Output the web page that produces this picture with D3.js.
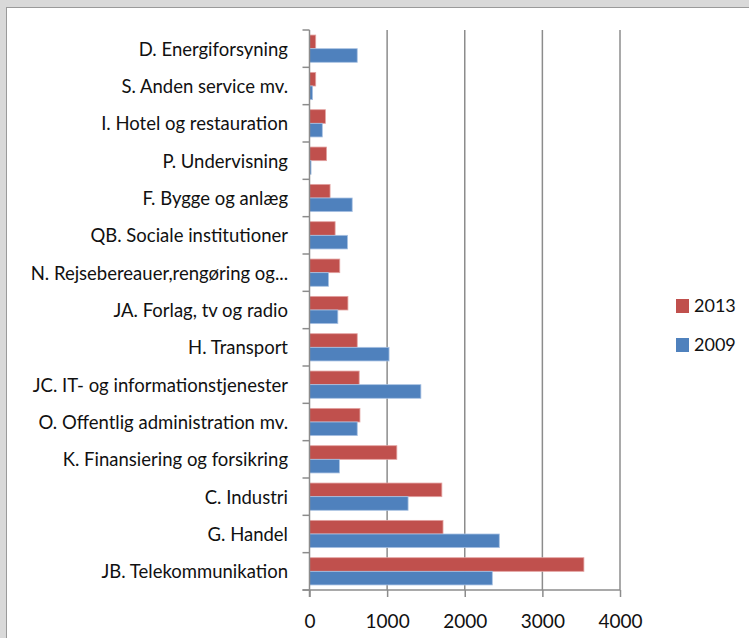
<!DOCTYPE html>
<html>
<head>
<meta charset="utf-8">
<script src="https://cdn.jsdelivr.net/npm/d3@7"></script>
<style>
  body { margin: 0; background: #fff; }
  svg { display: block; }
  text { font-family: Lato, "Open Sans", sans-serif; fill: #111; }
</style>
</head>
<body>
<div id="chart"></div>
<script>
// categories, top to bottom as shown
var categories = [
  "D. Energiforsyning",
  "S. Anden service mv.",
  "I. Hotel og restauration",
  "P. Undervisning",
  "F. Bygge og anlæg",
  "QB. Sociale institutioner",
  "N. Rejsebereauer,rengøring og...",
  "JA. Forlag, tv og radio",
  "H. Transport",
  "JC. IT- og informationstjenester",
  "O. Offentlig administration  mv.",
  "K. Finansiering og forsikring",
  "C. Industri",
  "G. Handel",
  "JB. Telekommunikation"
];
var values2013 = [80, 80, 205, 220, 265, 330, 390, 495, 615, 640, 650, 1125, 1705, 1720, 3535];
var values2009 = [615, 40, 165, 20, 550, 490, 245, 365, 1025, 1435, 615, 385, 1270, 2445, 2355];
var xTicks = [0, 1000, 2000, 3000, 4000];
var seriesNames = ["2013", "2009"];
var seriesColors = ["#c0504d", "#4f81bd"];
var seriesStroke = ["#e3a3a1", "#a9c2e3"];

var W = 749, H = 638;
var svg = d3.select("#chart").append("svg").attr("width", W).attr("height", H);

// grey frame around the chart area
svg.append("rect").attr("x", 0).attr("y", 0).attr("width", W).attr("height", H).attr("fill", "#d9d9d9");
svg.append("rect").attr("x", 6.5).attr("y", 7.5).attr("width", W).attr("height", H)
  .attr("fill", "#fff").attr("stroke", "#9a9a9a").attr("stroke-width", 1);

var plotLeft = 309.5, plotRight = 620, plotTop = 30, plotBottom = 590;

var x = d3.scaleLinear().domain([0, 4000]).range([plotLeft, plotRight]);
var y = d3.scaleBand().domain(categories).range([plotTop, plotBottom]);
var inner = d3.scaleBand().domain(seriesNames).range([0, y.bandwidth()]).paddingInner(0).paddingOuter(0.37);

// gridlines
svg.append("g").selectAll("line").data(xTicks.slice(1)).enter().append("line")
  .attr("x1", function(d) { return x(d); }).attr("x2", function(d) { return x(d); })
  .attr("y1", plotTop).attr("y2", plotBottom)
  .attr("stroke", "#8c8c8c").attr("stroke-width", 1.5);

// bars
var rows = categories.map(function(c, i) {
  return { cat: c, vals: [values2013[i], values2009[i]] };
});
var groups = svg.append("g").selectAll("g").data(rows).enter().append("g")
  .attr("transform", function(d) { return "translate(0," + y(d.cat) + ")"; });
groups.selectAll("rect").data(function(d) {
  return d.vals.map(function(v, j) { return { s: seriesNames[j], v: v, j: j }; });
}).enter().append("rect")
  .attr("x", x(0))
  .attr("y", function(d) { return inner(d.s); })
  .attr("width", function(d) { return x(d.v) - x(0); })
  .attr("height", inner.bandwidth())
  .attr("fill", function(d) { return seriesColors[d.j]; })
  .attr("stroke", function(d) { return seriesStroke[d.j]; })
  .attr("stroke-width", 0.8);

// x axis
var xAxis = svg.append("g").attr("transform", "translate(0," + plotBottom + ")")
  .call(d3.axisBottom(x).tickValues(xTicks).tickSize(7).tickPadding(18).tickFormat(d3.format("d")));
xAxis.select(".domain").attr("stroke", "#8c8c8c").attr("stroke-width", 1.5)
  .attr("d", "M" + (plotLeft - 7) + ",0H" + plotRight);
xAxis.selectAll(".tick line").attr("stroke", "#8c8c8c").attr("stroke-width", 1.5);
xAxis.selectAll(".tick text").style("font-size", "19px").attr("fill", "#111");

// y axis with ticks on category boundaries
var yAxis = svg.append("g");
yAxis.append("line").attr("x1", plotLeft).attr("x2", plotLeft).attr("y1", plotTop).attr("y2", plotBottom + 7)
  .attr("stroke", "#8c8c8c").attr("stroke-width", 1.5);
var bounds = categories.map(function(c) { return y(c); }).concat([plotBottom]);
yAxis.selectAll("line.tk").data(bounds).enter().append("line").attr("class", "tk")
  .attr("x1", plotLeft - 7).attr("x2", plotLeft)
  .attr("y1", function(d) { return d; }).attr("y2", function(d) { return d; })
  .attr("stroke", "#8c8c8c").attr("stroke-width", 1.5);
yAxis.selectAll("text").data(categories).enter().append("text")
  .attr("x", 288)
  .attr("y", function(d) { return y(d) + y.bandwidth() / 2; })
  .attr("dy", "0.38em")
  .attr("text-anchor", "end")
  .style("font-size", "18.5px")
  .text(function(d) { return d; });

// legend
var legend = svg.append("g").selectAll("g").data(seriesNames).enter().append("g")
  .attr("transform", function(d, i) { return "translate(676," + (299 + i * 39) + ")"; });
legend.append("rect").attr("width", 13).attr("height", 14)
  .attr("fill", function(d, i) { return seriesColors[i]; });
legend.append("text").attr("x", 18).attr("y", 7).attr("dy", "0.36em")
  .style("font-size", "18px").text(function(d) { return d; });
</script>
</body>
</html>
